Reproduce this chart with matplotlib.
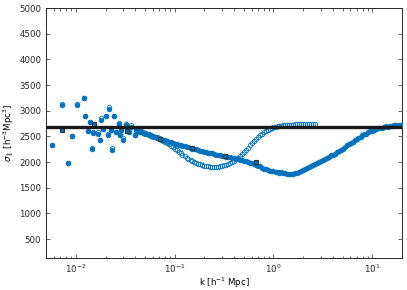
import numpy as np
import matplotlib
matplotlib.use("Agg")
import matplotlib.pyplot as plt

# ---- data ----
k_low = [0.0058, 0.0073, 0.0083, 0.0091, 0.0102, 0.0120, 0.0124, 0.0134, 0.0139, 0.0145,
         0.0150, 0.0168, 0.0175, 0.0182, 0.0189, 0.0201, 0.0212, 0.0217, 0.0226, 0.0235,
         0.0244, 0.0258, 0.0274, 0.0283, 0.0290, 0.0301, 0.0320, 0.0345, 0.0365, 0.0394, 0.0410]
filled_low = [2340, 3110, 1990, 2510, 3110, 3240, 2890, 2610, 2790, 2250,
              2560, 2550, 2430, 2830, 2640, 2900, 2520, 3030, 2620, 2240,
              2900, 2590, 2740, 2530, 2620, 2440, 2720, 2590, 2680, 2530, 2620]
open_low = [2340, 3140, 1990, 2510, 3140, 3240, 2890, 2610, 2790, 2280,
            2590, 2580, 2430, 2860, 2640, 2900, 2540, 3080, 2620, 2270,
            2900, 2590, 2760, 2530, 2620, 2470, 2740, 2590, 2720, 2530, 2620]

k_curve = [0.0417, 0.0457, 0.0501, 0.0550, 0.0603, 0.0661, 0.0724, 0.0794, 0.0871, 0.0955,
           0.105, 0.115, 0.126, 0.138, 0.151, 0.166, 0.182, 0.200, 0.219, 0.240,
           0.263, 0.288, 0.316, 0.347, 0.380, 0.417, 0.457, 0.501, 0.550, 0.603,
           0.661, 0.724, 0.794, 0.871, 0.955, 1.05, 1.15, 1.26, 1.38, 1.51,
           1.66, 1.82, 2.00, 2.19, 2.40, 2.63, 2.88, 3.16, 3.47, 3.80,
           4.17, 4.57, 5.01, 5.50, 6.03, 6.61, 7.24, 7.94, 8.71, 9.55,
           10.5, 11.5, 12.6, 13.8, 15.1, 16.6, 18.2, 20.0]
filled_curve = [2600, 2585, 2555, 2535, 2495, 2485, 2445, 2425, 2395, 2375,
                2345, 2335, 2305, 2295, 2265, 2255, 2225, 2205, 2175, 2170,
                2140, 2135, 2110, 2105, 2080, 2070, 2045, 2030, 1995, 1980,
                1945, 1915, 1870, 1850, 1820, 1815, 1795, 1795, 1770, 1775,
                1780, 1815, 1845, 1890, 1915, 1965, 1995, 2045, 2075, 2130,
                2165, 2220, 2265, 2325, 2365, 2425, 2465, 2520, 2555, 2605,
                2625, 2660, 2670, 2695, 2695, 2715, 2715, 2725]

k_curve2 = [0.0437, 0.0479, 0.0525, 0.0575, 0.0631, 0.0692, 0.0759, 0.0832, 0.0912, 0.100,
            0.110, 0.120, 0.132, 0.145, 0.158, 0.174, 0.191, 0.209, 0.229, 0.251,
            0.275, 0.302, 0.331, 0.363, 0.398, 0.437, 0.479, 0.525, 0.575, 0.631,
            0.692, 0.759, 0.832, 0.912, 1.00, 1.10, 1.20, 1.32, 1.45, 1.58,
            1.74, 1.91, 2.09, 2.29, 2.51, 2.75, 3.02, 3.31, 3.63, 3.98,
            4.37, 4.79, 5.25, 5.75, 6.31, 6.92, 7.59, 8.32, 9.12, 10.0,
            11.0, 12.0, 13.2, 14.5, 15.8, 17.4, 19.1]
filled_curve2 = [2590, 2570, 2548, 2510, 2492, 2462, 2438, 2408, 2388, 2358,
                 2342, 2318, 2302, 2278, 2262, 2238, 2218, 2190, 2175, 2152,
                 2140, 2120, 2108, 2090, 2078, 2055, 2040, 2012, 1990, 1962,
                 1930, 1892, 1862, 1832, 1822, 1802, 1800, 1780, 1768, 1778,
                 1795, 1828, 1868, 1900, 1942, 1980, 2022, 2058, 2105, 2145,
                 2195, 2240, 2298, 2345, 2398, 2445, 2495, 2538, 2582, 2612,
                 2645, 2665, 2682, 2690, 2708, 2718, 2722]

k_open = k_curve[:46]
open_curve = [2620, 2600, 2570, 2540, 2510, 2475, 2440, 2400, 2350, 2290,
              2230, 2170, 2110, 2060, 2020, 1985, 1955, 1930, 1915, 1905,
              1905, 1915, 1935, 1965, 2005, 2055, 2115, 2190, 2280, 2370,
              2450, 2520, 2580, 2630, 2665, 2690, 2705, 2720, 2725, 2730,
              2735, 2740, 2735, 2745, 2740, 2745]
k_open2 = k_curve2[:45]
open_curve2 = [2612, 2585, 2555, 2525, 2492, 2458, 2420, 2378, 2322, 2262,
               2200, 2140, 2085, 2040, 2002, 1970, 1942, 1922, 1910, 1903,
               1910, 1925, 1950, 1985, 2030, 2085, 2150, 2235, 2325, 2412,
               2485, 2552, 2605, 2650, 2678, 2698, 2712, 2722, 2728, 2732,
               2738, 2738, 2740, 2742, 2745]

k_sq = [0.0073, 0.0153, 0.0333, 0.0707, 0.149, 0.32, 0.67]
sq_vals = [2620, 2735, 2600, 2450, 2280, 2117, 2006]

ref_level = 2680

# ---- plot ----
blue = '#0072BD'
plt.rcParams['font.family'] = ['DejaVu Sans']
fig = plt.figure(figsize=(4.07, 2.90), dpi=100)
ax = fig.add_axes([0.113, 0.110, 0.875, 0.862])

ax.plot(k_low + k_open + k_open2, open_low + open_curve + open_curve2, 'o', ls='none',
        ms=3.2, mfc='none', mec=blue, mew=0.6, zorder=2)
ax.plot(k_low + k_curve + k_curve2, filled_low + filled_curve + filled_curve2, 'o',
        ls='none', ms=3.4, mfc=blue, mec=blue, mew=0.5, zorder=3)
ax.plot(k_sq, sq_vals, 's', ls='none', ms=3.5, mfc=blue, mec='#333333', mew=0.8, zorder=4)
ax.axhline(ref_level, color='#1a1a1a', lw=2.4, zorder=5)

ax.set_xscale('log')
ax.set_xlim(0.005, 20)
ax.set_ylim(130, 5000)
ax.set_yticks(np.arange(500, 5001, 500))
ax.tick_params(which='both', direction='in', top=True, right=True, labelsize=6.2,
               width=0.5, colors='#262626')
ax.tick_params(which='major', length=3)
ax.tick_params(which='minor', length=1.8)
for s in ax.spines.values():
    s.set_linewidth(0.7)
    s.set_color('#262626')
ax.set_xlabel(r'k [h$^{-1}$ Mpc]', fontsize=6.2, labelpad=0)
ax.set_ylabel(r'$\sigma_{\parallel}$ [h$^{-3}$Mpc$^3$]', fontsize=6.2, labelpad=2)

fig.savefig('out.png', dpi=100)
